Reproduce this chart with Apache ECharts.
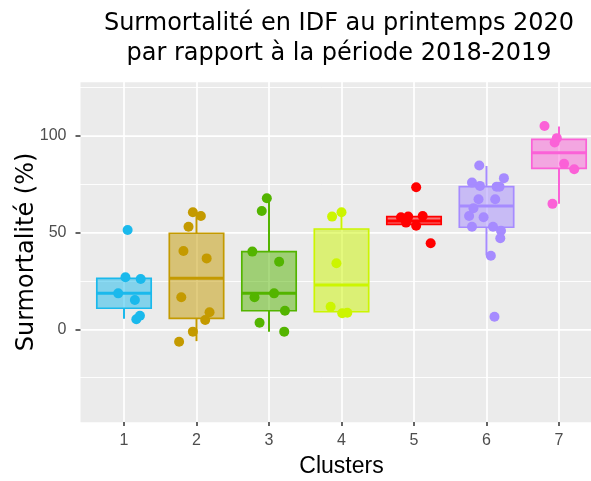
<!DOCTYPE html>
<html>
<head>
<meta charset="utf-8">
<script src="https://cdn.jsdelivr.net/npm/echarts@6/dist/echarts.min.js"></script>
<style>
  html, body { margin: 0; padding: 0; background: #fff; }
  #chart { width: 591px; height: 481px; }
</style>
</head>
<body>
<div id="chart"></div>
<script>
// categories (clusters) and their colours
const clusters = ['1', '2', '3', '4', '5', '6', '7']
const colors = ['#1AB9EC', '#C49A00', '#53B400', '#CCF500', '#FF0000', '#A68BFF', '#FB61D7']

// box statistics per cluster
const whiskerLow  = [5.5, -6.1, -1.2, 8.3, 53.6, 38.3, 64.9]
const q1          = [10.9, 5.7, 9.6, 9.1, 54.3, 52.8, 83.3]
const median      = [18.6, 26.4, 18.6, 22.9, 56.0, 63.8, 91.4]
const q3          = [26.4, 49.7, 40.2, 51.9, 58.3, 73.8, 98.3]
const whiskerHigh = [26.9, 60.3, 67.8, 60.6, 58.6, 84.5, 104.9]

// jittered points (x position incl. jitter, y value)
const pointsX = [
  [1.05, 1.02, 1.23, 0.92, 1.15, 1.17, 1.22],
  [1.95, 2.06, 1.89, 1.82, 2.14, 1.79, 2.18, 2.12, 1.95, 1.76],
  [2.97, 2.90, 2.77, 3.14, 2.80, 3.07, 3.22, 2.87, 3.21],
  [4.00, 3.87, 3.93, 3.85, 4.01, 4.08],
  [5.03, 5.23, 4.82, 4.92, 5.12, 4.89, 5.03],
  [5.90, 5.80, 5.91, 6.24, 6.14, 6.18, 5.89, 6.12, 5.82, 5.76, 5.96, 5.80, 6.09, 6.20, 6.19, 6.06, 6.11],
  [6.80, 6.97, 6.94, 7.07, 7.21, 6.91]
]
const pointsY = [
  [51.4, 26.9, 26.0, 18.6, 15.2, 5.2, 7.0],
  [60.6, 58.6, 53.1, 40.5, 36.7, 16.6, 8.8, 4.8, -1.2, -6.4],
  [67.8, 61.2, 40.2, 35.0, 16.6, 18.6, 9.6, 3.4, -1.2],
  [60.6, 58.3, 34.2, 11.7, 8.3, 8.6],
  [73.5, 44.5, 58.0, 58.3, 58.6, 55.2, 53.6],
  [84.7, 75.9, 74.2, 78.2, 73.8, 73.8, 67.3, 67.3, 62.6, 58.6, 58.0, 53.1, 53.1, 51.0, 47.1, 38.1, 6.5],
  [105.2, 98.9, 96.6, 85.6, 82.8, 64.9]
]

// y tick labels
const yTicks = [0, 50, 100]

const myChart = echarts.init(document.getElementById('chart'))

const boxData = clusters.map((c, i) => [i + 1, whiskerLow[i], q1[i], median[i], q3[i], whiskerHigh[i]])

// ggplot style box: semi-transparent fill, thin whiskers, thick median
const renderBox = (params, api) => {
  const x = api.value(0)
  const color = colors[params.dataIndex]
  const half = api.size([0.75, 0])[0] / 2
  const pLo = api.coord([x, api.value(1)])
  const pQ1 = api.coord([x, api.value(2)])
  const pMed = api.coord([x, api.value(3)])
  const pQ3 = api.coord([x, api.value(4)])
  const pHi = api.coord([x, api.value(5)])
  const line = (x1, y1, x2, y2, w) => ({
    type: 'line',
    shape: { x1, y1, x2, y2 },
    style: { stroke: color, lineWidth: w }
  })
  return {
    type: 'group',
    children: [
      line(pQ3[0], pQ3[1], pHi[0], pHi[1], 2),
      line(pQ1[0], pQ1[1], pLo[0], pLo[1], 2),
      {
        type: 'rect',
        shape: { x: pQ1[0] - half, y: pQ3[1], width: half * 2, height: pQ1[1] - pQ3[1] },
        style: { fill: echarts.color.modifyAlpha(color, 0.5), stroke: color, lineWidth: 1.7 }
      },
      line(pMed[0] - half, pMed[1], pMed[0] + half, pMed[1], 3)
    ]
  }
}

const option = {
  animation: false,
  title: {
    text: 'Surmortalité en IDF au printemps 2020\npar rapport à la période 2018-2019',
    left: 334,
    top: 4,
    textAlign: 'center',
    textStyle: {
      fontFamily: 'DejaVu Sans',
      fontSize: 24,
      fontWeight: 'normal',
      color: '#000',
      lineHeight: 30
    }
  },
  grid: {
    left: 51.5,
    top: 78,
    width: 580,
    height: 348,
    containLabel: false,
    outerBoundsMode: 'none'
  },
  xAxis: {
    type: 'value',
    min: 0,
    max: 8,
    interval: 1,
    offset: -4,
    name: 'Clusters',
    nameLocation: 'middle',
    nameGap: 33,
    nameTextStyle: { fontFamily: 'Liberation Sans', fontSize: 23, color: '#000' },
    axisLine: { show: false, onZero: false },
    axisTick: {
      show: true,
      length: 4,
      customValues: clusters.map((c, i) => i + 1),
      lineStyle: { color: '#333', width: 1.5 }
    },
    axisLabel: {
      customValues: clusters.map((c, i) => i + 1),
      formatter: v => clusters[v - 1],
      margin: 11,
      fontFamily: 'Liberation Sans',
      fontSize: 16,
      color: '#4D4D4D'
    },
    splitLine: { show: true, lineStyle: { color: '#fff', width: 1.7 } }
  },
  yAxis: [
    {
      type: 'value',
      min: -50,
      max: 130,
      interval: 50,
      offset: -29,
      name: 'Surmortalité (%)',
      nameLocation: 'middle',
      nameRotate: 90,
      nameGap: 42,
      nameMoveOverlap: false,
      nameTextStyle: { fontFamily: 'DejaVu Sans', fontSize: 24, color: '#000' },
      axisLine: { show: false, onZero: false },
      axisTick: {
        show: true,
        length: 5,
        customValues: yTicks,
        lineStyle: { color: '#333', width: 1.5 }
      },
      axisLabel: {
        customValues: yTicks,
        margin: 14,
        fontFamily: 'Liberation Sans',
        fontSize: 16,
        color: '#4D4D4D'
      },
      splitLine: { show: true, lineStyle: { color: '#fff', width: 1.7 } }
    },
    {
      type: 'value',
      min: -50,
      max: 130,
      interval: 25,
      axisLine: { show: false, onZero: false },
      axisTick: { show: false },
      axisLabel: { show: false },
      splitLine: { show: true, lineStyle: { color: '#fff', width: 0.9 } }
    }
  ],
  series: [
    {
      type: 'custom',
      renderItem: renderBox,
      data: boxData,
      encode: { x: 0, y: [1, 2, 3, 4, 5] },
      z: 2
    },
    ...clusters.map((c, i) => ({
      type: 'scatter',
      name: c,
      symbolSize: 10,
      itemStyle: { color: colors[i], opacity: 1 },
      data: pointsX[i].map((x, j) => [x, pointsY[i][j]]),
      z: 3
    }))
  ]
}

myChart.setOption(option)

// grey panel behind the grid lines, ggplot-like limits
const p1 = myChart.convertToPixel({ gridIndex: 0 }, [0.4, 127.8])
const p2 = myChart.convertToPixel({ gridIndex: 0 }, [7.6, -48])
myChart.setOption({
  graphic: [{
    type: 'rect',
    z: -100,
    shape: { x: p1[0], y: p1[1], width: p2[0] - p1[0], height: p2[1] - p1[1] },
    style: { fill: '#EBEBEB' },
    silent: true
  }]
})
</script>
</body>
</html>
